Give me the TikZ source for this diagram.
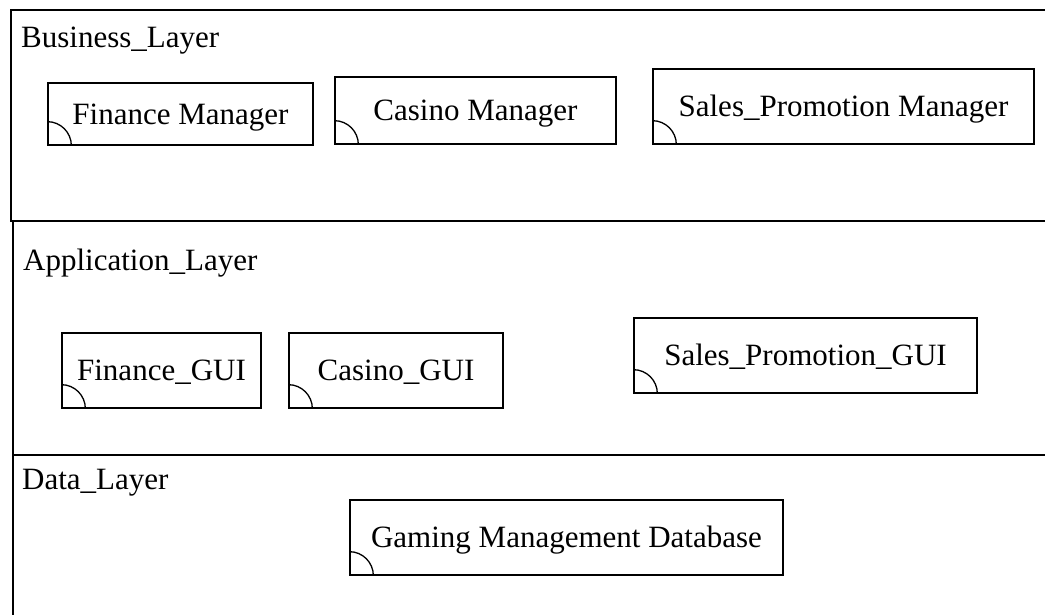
\documentclass[tikz,border=0pt]{standalone}
\usepackage{fontspec}
\setmainfont{Liberation Serif}
\begin{document}
\begin{tikzpicture}[x=1pt,y=-1pt,
  layer/.style={draw=black, line width=2pt, inner sep=0pt, anchor=north west},
  layerlabel/.style={anchor=base west, inner sep=0pt, font=\fontsize{31}{36}\selectfont},
  comp/.style={draw=black, line width=1.3pt, inner sep=0pt, text height=20.5pt, text depth=0pt,
    font=\fontsize{31}{36}\selectfont},
  corner/.style={draw=black, line width=1.3pt}
]
\useasboundingbox (0,0) rectangle (1045,614);
\clip (0,0) rectangle (1045,614);
\fill[white] (0,0) rectangle (1045,614);

% layers
\node[layer, minimum width=1050.5pt, minimum height=211pt] (business) at (9.5,8.5) {};
\node[layer, minimum width=1048pt, minimum height=234.5pt] (application) at (12,219.5) {};
\node[layer, minimum width=1048pt, minimum height=180pt] (data) at (12,454) {};

\node[layerlabel] (blabel) at (21,47) {Business\_Layer};
\node[layerlabel] (alabel) at (23,270) {Application\_Layer};
\node[layerlabel] (dlabel) at (22,489) {Data\_Layer};

% components
\node[comp, minimum width=265pt, minimum height=62pt] (finmgr) at (180.5,114) {Finance Manager};
\node[comp, minimum width=281pt, minimum height=67pt] (casmgr) at (475.5,110.5) {Casino Manager};
\node[comp, minimum width=381pt, minimum height=75pt] (salesmgr) at (843.5,106.5) {Sales\_Promotion Manager};
\node[comp, minimum width=199pt, minimum height=75pt] (fingui) at (161.5,370.5) {Finance\_GUI};
\node[comp, minimum width=214pt, minimum height=75pt] (casgui) at (396,370.5) {Casino\_GUI};
\node[comp, minimum width=343pt, minimum height=75pt] (salesgui) at (805.5,355.5) {Sales\_Promotion\_GUI};
\node[comp, minimum width=433pt, minimum height=75pt] (gamingdb) at (566.5,537.5) {Gaming Management Database};

\foreach \n in {finmgr,casmgr,salesmgr,fingui,casgui,salesgui,gamingdb}{
  \draw[corner] ([yshift=24pt]\n.south west) arc[start angle=90, end angle=0, radius=24pt];
}
\end{tikzpicture}
\end{document}
